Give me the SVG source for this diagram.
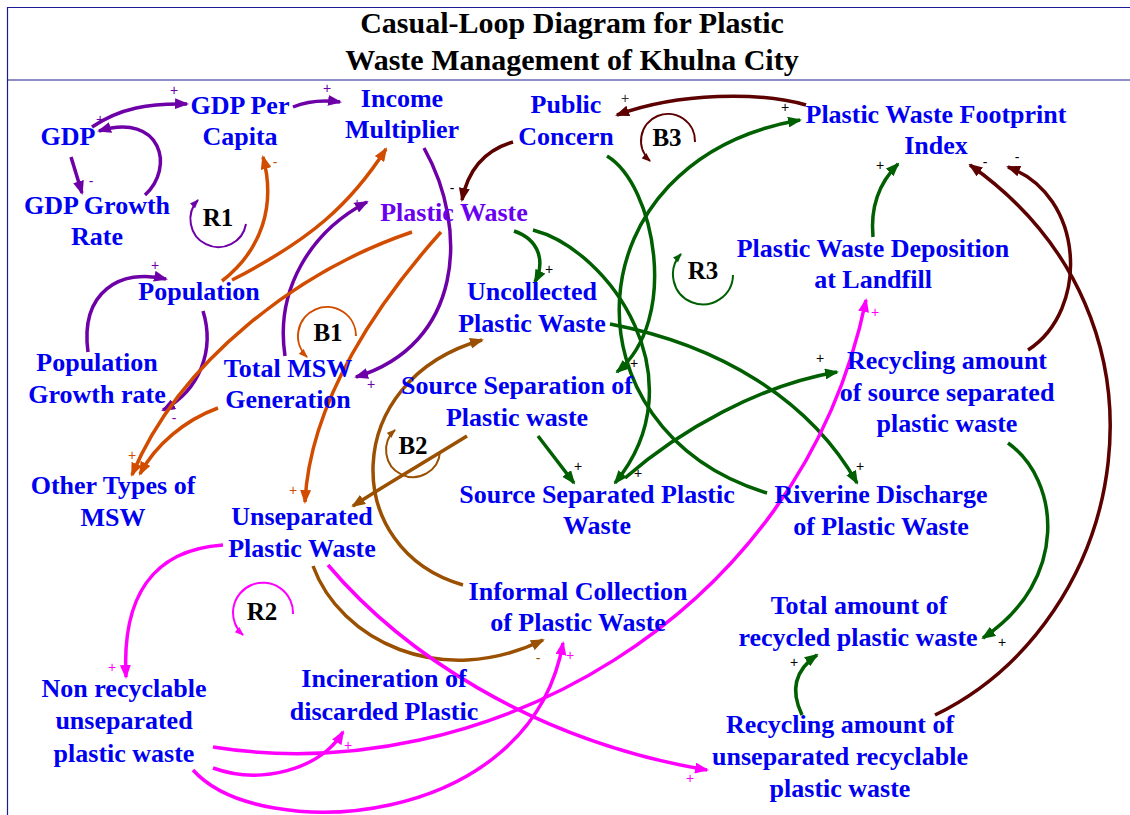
<svg xmlns="http://www.w3.org/2000/svg" width="1130" height="815" viewBox="0 0 1130 815">
<style>
.t{font-family:"Liberation Serif","Times New Roman",serif;font-weight:bold;font-size:26px;fill:#0000f0;text-anchor:middle}
.title{font-family:"Liberation Serif","Times New Roman",serif;font-weight:bold;font-size:30px;fill:#000;text-anchor:middle}
.loop{font-family:"Liberation Serif","Times New Roman",serif;font-weight:bold;font-size:25px;fill:#000;text-anchor:middle}
.s{font-family:"Liberation Sans",Arial,sans-serif;font-size:14px;text-anchor:middle}
.c{fill:none;stroke-width:3.5}
.la{fill:none;stroke-width:2}
.pu{stroke:#6e00a8}.or{stroke:#d24c00}.gr{stroke:#005f00}.br{stroke:#9a5000}.ma{stroke:#5c0000}.mg{stroke:#ff00ff}
</style>
<defs>
<marker id="a-pu" viewBox="0 0 14 11" refX="12" refY="5.5" markerWidth="14" markerHeight="11" markerUnits="userSpaceOnUse" orient="auto"><path d="M0,0L14,5.5L0,11z" fill="#6e00a8"/></marker>
<marker id="a-or" viewBox="0 0 14 11" refX="12" refY="5.5" markerWidth="14" markerHeight="11" markerUnits="userSpaceOnUse" orient="auto"><path d="M0,0L14,5.5L0,11z" fill="#d24c00"/></marker>
<marker id="a-gr" viewBox="0 0 14 11" refX="12" refY="5.5" markerWidth="14" markerHeight="11" markerUnits="userSpaceOnUse" orient="auto"><path d="M0,0L14,5.5L0,11z" fill="#005f00"/></marker>
<marker id="a-br" viewBox="0 0 14 11" refX="12" refY="5.5" markerWidth="14" markerHeight="11" markerUnits="userSpaceOnUse" orient="auto"><path d="M0,0L14,5.5L0,11z" fill="#9a5000"/></marker>
<marker id="a-ma" viewBox="0 0 14 11" refX="12" refY="5.5" markerWidth="14" markerHeight="11" markerUnits="userSpaceOnUse" orient="auto"><path d="M0,0L14,5.5L0,11z" fill="#5c0000"/></marker>
<marker id="a-mg" viewBox="0 0 14 11" refX="12" refY="5.5" markerWidth="14" markerHeight="11" markerUnits="userSpaceOnUse" orient="auto"><path d="M0,0L14,5.5L0,11z" fill="#ff00ff"/></marker>
<marker id="s-pu" viewBox="0 0 9 7" refX="8" refY="3.5" markerWidth="9" markerHeight="7" markerUnits="userSpaceOnUse" orient="auto"><path d="M0,0L9,3.5L0,7z" fill="#6e00a8"/></marker>
<marker id="s-or" viewBox="0 0 9 7" refX="8" refY="3.5" markerWidth="9" markerHeight="7" markerUnits="userSpaceOnUse" orient="auto"><path d="M0,0L9,3.5L0,7z" fill="#d24c00"/></marker>
<marker id="s-gr" viewBox="0 0 9 7" refX="8" refY="3.5" markerWidth="9" markerHeight="7" markerUnits="userSpaceOnUse" orient="auto"><path d="M0,0L9,3.5L0,7z" fill="#005f00"/></marker>
<marker id="s-br" viewBox="0 0 9 7" refX="8" refY="3.5" markerWidth="9" markerHeight="7" markerUnits="userSpaceOnUse" orient="auto"><path d="M0,0L9,3.5L0,7z" fill="#9a5000"/></marker>
<marker id="s-ma" viewBox="0 0 9 7" refX="8" refY="3.5" markerWidth="9" markerHeight="7" markerUnits="userSpaceOnUse" orient="auto"><path d="M0,0L9,3.5L0,7z" fill="#5c0000"/></marker>
<marker id="s-mg" viewBox="0 0 9 7" refX="8" refY="3.5" markerWidth="9" markerHeight="7" markerUnits="userSpaceOnUse" orient="auto"><path d="M0,0L9,3.5L0,7z" fill="#ff00ff"/></marker>
</defs>
<rect width="1130" height="815" fill="#fff"/>
<g id="frame" stroke="#1c1c94" stroke-width="1.2" fill="none">
<path d="M7.5,815V7.5H1130M7.5,80H1130"/>
</g>
<g id="title">
<text class="title" x="572" y="33">Casual-Loop Diagram for Plastic</text>
<text class="title" x="572" y="70">Waste Management of Khulna City</text>
</g>
<g id="connectors">
<path class="c pu" marker-end="url(#a-pu)" d="M92,127 C120,108 150,103 187,104"/>
<path class="c pu" marker-end="url(#a-pu)" d="M145,195 C175,168 162,112 99,131"/>
<path class="c pu" marker-end="url(#a-pu)" d="M71,157 L82,193"/>
<path class="c pu" marker-end="url(#a-pu)" d="M293,107 C310,100 325,100 340,102"/>
<path class="c pu" marker-end="url(#a-pu)" d="M424,148 C470,230 462,345 356,377"/>
<path class="c pu" marker-end="url(#a-pu)" d="M285,356 C275,290 310,232 367,202"/>
<path class="c pu" marker-end="url(#a-pu)" d="M203,311 C215,350 200,390 163,410"/>
<path class="c pu" marker-end="url(#a-pu)" d="M88,352 C80,292 120,268 166,279"/>
<path class="c or" marker-end="url(#a-or)" d="M222,281 C262,250 276,205 263,157"/>
<path class="c or" marker-end="url(#a-or)" d="M232,280 C310,240 350,205 386,149"/>
<path class="c or" marker-end="url(#a-or)" d="M412,232 C300,270 180,360 132,475"/>
<path class="c or" marker-end="url(#a-or)" d="M218,408 C185,420 155,445 140,474"/>
<path class="c or" marker-end="url(#a-or)" d="M441,232 C380,300 310,400 305,502"/>
<path class="c ma" marker-end="url(#a-ma)" d="M806,105 C760,92 680,92 617,115"/>
<path class="c ma" marker-end="url(#a-ma)" d="M513,142 C485,150 468,170 462,200"/>
<path class="c ma" marker-end="url(#a-ma)" d="M1028,350 C1090,310 1085,195 1008,167"/>
<path class="c ma" marker-end="url(#a-ma)" d="M935,715 C1130,620 1190,320 970,165"/>
<path class="c gr" marker-end="url(#a-gr)" d="M514,231 C540,240 545,262 535,282"/>
<path class="c gr" marker-end="url(#a-gr)" d="M533,230 C610,250 700,380 615,483"/>
<path class="c gr" marker-end="url(#a-gr)" d="M607,156 C655,185 680,320 617,372"/>
<path class="c gr" marker-end="url(#a-gr)" d="M610,324 C720,345 810,400 857,483"/>
<path class="c gr" marker-end="url(#a-gr)" d="M767,493 C560,430 570,160 800,120"/>
<path class="c gr" marker-end="url(#a-gr)" d="M625,478 C680,430 760,385 837,372"/>
<path class="c gr" marker-end="url(#a-gr)" d="M538,436 L574,483"/>
<path class="c gr" marker-end="url(#a-gr)" d="M873,237 C870,205 880,182 898,164"/>
<path class="c gr" marker-end="url(#a-gr)" d="M1008,443 C1060,480 1070,580 983,638"/>
<path class="c gr" marker-end="url(#a-gr)" d="M802,715 C790,690 795,670 817,655"/>
<path class="c br" marker-end="url(#a-br)" d="M467,436 C420,465 385,485 353,506"/>
<path class="c br" marker-end="url(#a-br)" d="M463,585 C340,550 340,380 482,340"/>
<path class="c br" marker-end="url(#a-br)" d="M313,566 C340,640 440,690 543,640"/>
<path class="c mg" marker-end="url(#a-mg)" d="M223,545 C150,550 122,600 126,677"/>
<path class="c mg" marker-end="url(#a-mg)" d="M328,565 C400,650 530,740 707,770"/>
<path class="c mg" marker-end="url(#a-mg)" d="M213,747 C480,790 800,620 866,300"/>
<path class="c mg" marker-end="url(#a-mg)" d="M213,768 C260,785 320,770 343,732"/>
<path class="c mg" marker-end="url(#a-mg)" d="M193,770 C260,845 530,830 563,643"/>
</g>
<g id="polarities">
<text class="s" fill="#6e00a8" x="174" y="95">+</text>
<text class="s" fill="#6e00a8" x="100" y="124">+</text>
<text class="s" fill="#6e00a8" x="91" y="186">-</text>
<text class="s" fill="#6e00a8" x="327" y="93">+</text>
<text class="s" fill="#6e00a8" x="371" y="389">+</text>
<text class="s" fill="#6e00a8" x="357" y="208">+</text>
<text class="s" fill="#6e00a8" x="174" y="423">-</text>
<text class="s" fill="#6e00a8" x="155" y="270">+</text>
<text class="s" fill="#d24c00" x="275" y="167">-</text>
<text class="s" fill="#d24c00" x="132" y="460">+</text>
<text class="s" fill="#d24c00" x="293" y="495">+</text>
<text class="s" fill="#333" x="625" y="103">+</text>
<text class="s" fill="#000" x="452" y="193">-</text>
<text class="s" fill="#000" x="985" y="167">-</text>
<text class="s" fill="#000" x="1017" y="162">-</text>
<text class="s" fill="#000" x="549" y="274">+</text>
<text class="s" fill="#000" x="785" y="112">+</text>
<text class="s" fill="#000" x="634" y="368">+</text>
<text class="s" fill="#000" x="578" y="471">+</text>
<text class="s" fill="#000" x="638" y="478">+</text>
<text class="s" fill="#000" x="820" y="363">+</text>
<text class="s" fill="#000" x="860" y="471">+</text>
<text class="s" fill="#000" x="880" y="170">+</text>
<text class="s" fill="#000" x="1002" y="647">+</text>
<text class="s" fill="#000" x="794" y="667">+</text>
<text class="s" fill="#9a5000" x="538" y="663">-</text>
<text class="s" fill="#ff00ff" x="112" y="672">+</text>
<text class="s" fill="#ff00ff" x="348" y="750">+</text>
<text class="s" fill="#ff00ff" x="570" y="660">+</text>
<text class="s" fill="#ff00ff" x="690" y="783">+</text>
<text class="s" fill="#ff00ff" x="875" y="317">+</text>
</g>
<g id="loops">
<path class="la pu" marker-end="url(#s-pu)" d="M246,224 A28,28 0 1 1 198,200"/>
<text class="loop" x="218" y="226">R1</text>
<path class="la or" marker-end="url(#s-or)" d="M356,336 A29,29 0 1 0 307,357"/>
<text class="loop" x="328" y="341">B1</text>
<path class="la br" marker-end="url(#s-br)" d="M440,452 A27,27 0 1 1 395,430"/>
<text class="loop" x="413" y="454">B2</text>
<path class="la ma" marker-end="url(#s-ma)" d="M695,142 A27,27 0 1 0 650,161"/>
<text class="loop" x="667" y="146">B3</text>
<path class="la gr" marker-end="url(#s-gr)" d="M733,275 A30,30 0 1 1 681,254"/>
<text class="loop" x="703" y="279">R3</text>
<path class="la mg" marker-end="url(#s-mg)" d="M293,614 A30,30 0 1 0 243,635"/>
<text class="loop" x="262" y="620">R2</text>
</g>
<g id="gdp"><text class="t" x="68" y="145">GDP</text></g>
<g id="gdp-per-capita"><text class="t" x="240" y="114">GDP Per</text><text class="t" x="240" y="145">Capita</text></g>
<g id="gdp-growth-rate"><text class="t" x="97" y="214">GDP Growth</text><text class="t" x="97" y="245">Rate</text></g>
<g id="income-multiplier"><text class="t" x="402" y="107">Income</text><text class="t" x="402" y="138">Multiplier</text></g>
<g id="public-concern"><text class="t" x="566" y="113">Public</text><text class="t" x="566" y="145">Concern</text></g>
<g id="footprint-index"><text class="t" x="936" y="123">Plastic Waste Footprint</text><text class="t" x="936" y="154">Index</text></g>
<g id="plastic-waste"><text class="t" x="454" y="221" style="fill:#6a00f0">Plastic Waste</text></g>
<g id="population"><text class="t" x="199" y="300">Population</text></g>
<g id="landfill-deposition"><text class="t" x="873" y="257">Plastic Waste Deposition</text><text class="t" x="873" y="288">at Landfill</text></g>
<g id="uncollected"><text class="t" x="532" y="300">Uncollected</text><text class="t" x="532" y="332">Plastic Waste</text></g>
<g id="population-growth-rate"><text class="t" x="97" y="371">Population</text><text class="t" x="97" y="403">Growth rate</text></g>
<g id="total-msw"><text class="t" x="288" y="377">Total MSW</text><text class="t" x="288" y="408">Generation</text></g>
<g id="recycling-source-separated"><text class="t" x="947" y="369">Recycling amount</text><text class="t" x="947" y="401">of source separated</text><text class="t" x="947" y="432">plastic waste</text></g>
<g id="source-separation"><text class="t" x="517" y="394">Source Separation of</text><text class="t" x="517" y="426">Plastic waste</text></g>
<g id="source-separated"><text class="t" x="597" y="503">Source Separated Plastic</text><text class="t" x="597" y="534">Waste</text></g>
<g id="riverine-discharge"><text class="t" x="881" y="503">Riverine Discharge</text><text class="t" x="881" y="535">of Plastic Waste</text></g>
<g id="other-msw"><text class="t" x="113" y="494">Other Types of</text><text class="t" x="113" y="526">MSW</text></g>
<g id="unseparated"><text class="t" x="302" y="525">Unseparated</text><text class="t" x="302" y="557">Plastic Waste</text></g>
<g id="informal-collection"><text class="t" x="578" y="600">Informal Collection</text><text class="t" x="578" y="631">of Plastic Waste</text></g>
<g id="total-recycled"><text class="t" x="859" y="614">Total amount of</text><text class="t" x="858" y="646">recycled plastic waste</text></g>
<g id="non-recyclable"><text class="t" x="124" y="697">Non recyclable</text><text class="t" x="124" y="729">unseparated</text><text class="t" x="124" y="762">plastic waste</text></g>
<g id="incineration"><text class="t" x="384" y="687">Incineration of</text><text class="t" x="384" y="720">discarded Plastic</text></g>
<g id="recycling-unseparated"><text class="t" x="840" y="733">Recycling amount of</text><text class="t" x="840" y="765">unseparated recyclable</text><text class="t" x="840" y="797">plastic waste</text></g>
</svg>
